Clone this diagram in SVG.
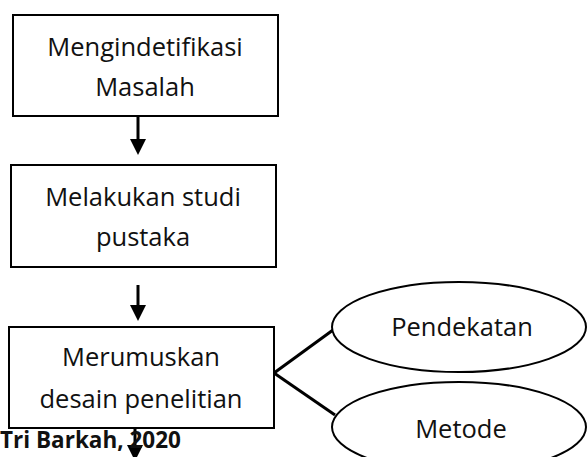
<svg xmlns="http://www.w3.org/2000/svg" width="588" height="457" viewBox="0 0 588 457">
<style>
.box{fill:#fff;stroke:#000;stroke-width:2}
.ell{fill:#fff;stroke:#000;stroke-width:2}
.t{font-family:"Open Sans","Liberation Sans",sans-serif;font-size:25.5px;fill:#111;text-anchor:middle}
.c{stroke:#000;stroke-width:3;fill:none}
.a{fill:#000}
.src{font-family:"Open Sans","Liberation Sans",sans-serif;font-size:22.5px;font-weight:bold;fill:#111}
</style>
<g id="connectors">
<line class="c" x1="138" y1="116" x2="138" y2="142"/>
<polygon class="a" points="130,139 146,139 138,155"/>
<line class="c" x1="138" y1="285" x2="138" y2="308"/>
<polygon class="a" points="130,305 146,305 138,321"/>
<line class="c" x1="274" y1="373" x2="333" y2="330"/>
<line class="c" x1="274" y1="373" x2="335" y2="415"/>
<line class="c" x1="135" y1="428" x2="135" y2="447"/>
<polygon class="a" points="127,445 143,445 135,461"/>
</g>
<g id="n1">
<rect class="box" x="13" y="15" width="265" height="101"/>
<text class="t" x="145" y="56">Mengindetifikasi</text>
<text class="t" x="145" y="96">Masalah</text>
</g>
<g id="n2">
<rect class="box" x="11" y="165" width="265" height="102"/>
<text class="t" x="143" y="206">Melakukan studi</text>
<text class="t" x="143" y="246">pustaka</text>
</g>
<g id="n3">
<rect class="box" x="9" y="327" width="265" height="101"/>
<text class="t" x="141" y="366">Merumuskan</text>
<text class="t" x="141" y="408">desain penelitian</text>
</g>
<g id="n4">
<ellipse class="ell" cx="459" cy="327" rx="127" ry="45"/>
<text class="t" x="462" y="336">Pendekatan</text>
</g>
<g id="n5">
<ellipse class="ell" cx="459" cy="427" rx="127" ry="45"/>
<text class="t" x="461" y="438">Metode</text>
</g>
<text class="src" x="0" y="448">Tri Barkah, 2020</text>
</svg>
